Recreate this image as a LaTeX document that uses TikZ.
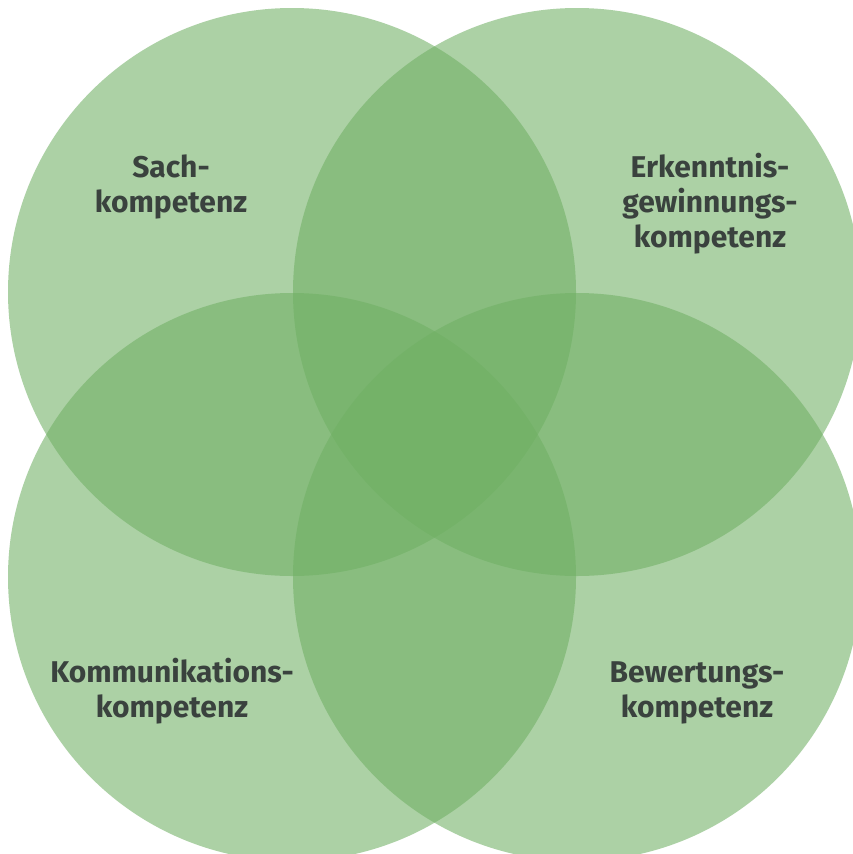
\documentclass[tikz,border=0pt]{standalone}
\usepackage{fontspec}
\setmainfont{Fira Sans}
\definecolor{venngreen}{RGB}{112,176,100}
\definecolor{labelgrey}{RGB}{58,66,62}
\begin{document}
\begin{tikzpicture}[x=1pt,y=-1pt,
  venn/.style={circle,draw=none,fill=venngreen,fill opacity=0.58,minimum size=568pt,inner sep=0pt},
  lbl/.style={text=labelgrey,align=center,anchor=base,inner sep=0pt,
    font=\fontsize{30}{35}\selectfont\bfseries}]
\useasboundingbox (0,0) rectangle (853,854);
\fill[white] (0,0) rectangle (853,854);
\clip (0,0) rectangle (853,854);
\node[venn] (sach) at (292,292) {};
\node[venn] (erk) at (577,292) {};
\node[venn] (komm) at (292,577) {};
\node[venn] (bew) at (577,577) {};
\node[lbl] (tsach) at (171,212) {Sach-\\kompetenz};
\node[lbl] (terk) at (710,247) {Erkenntnis-\\gewinnungs-\\kompetenz};
\node[lbl] (tkomm) at (172,717) {Kommunikations-\\kompetenz};
\node[lbl] (tbew) at (697,717) {Bewertungs-\\kompetenz};
\end{tikzpicture}
\end{document}
